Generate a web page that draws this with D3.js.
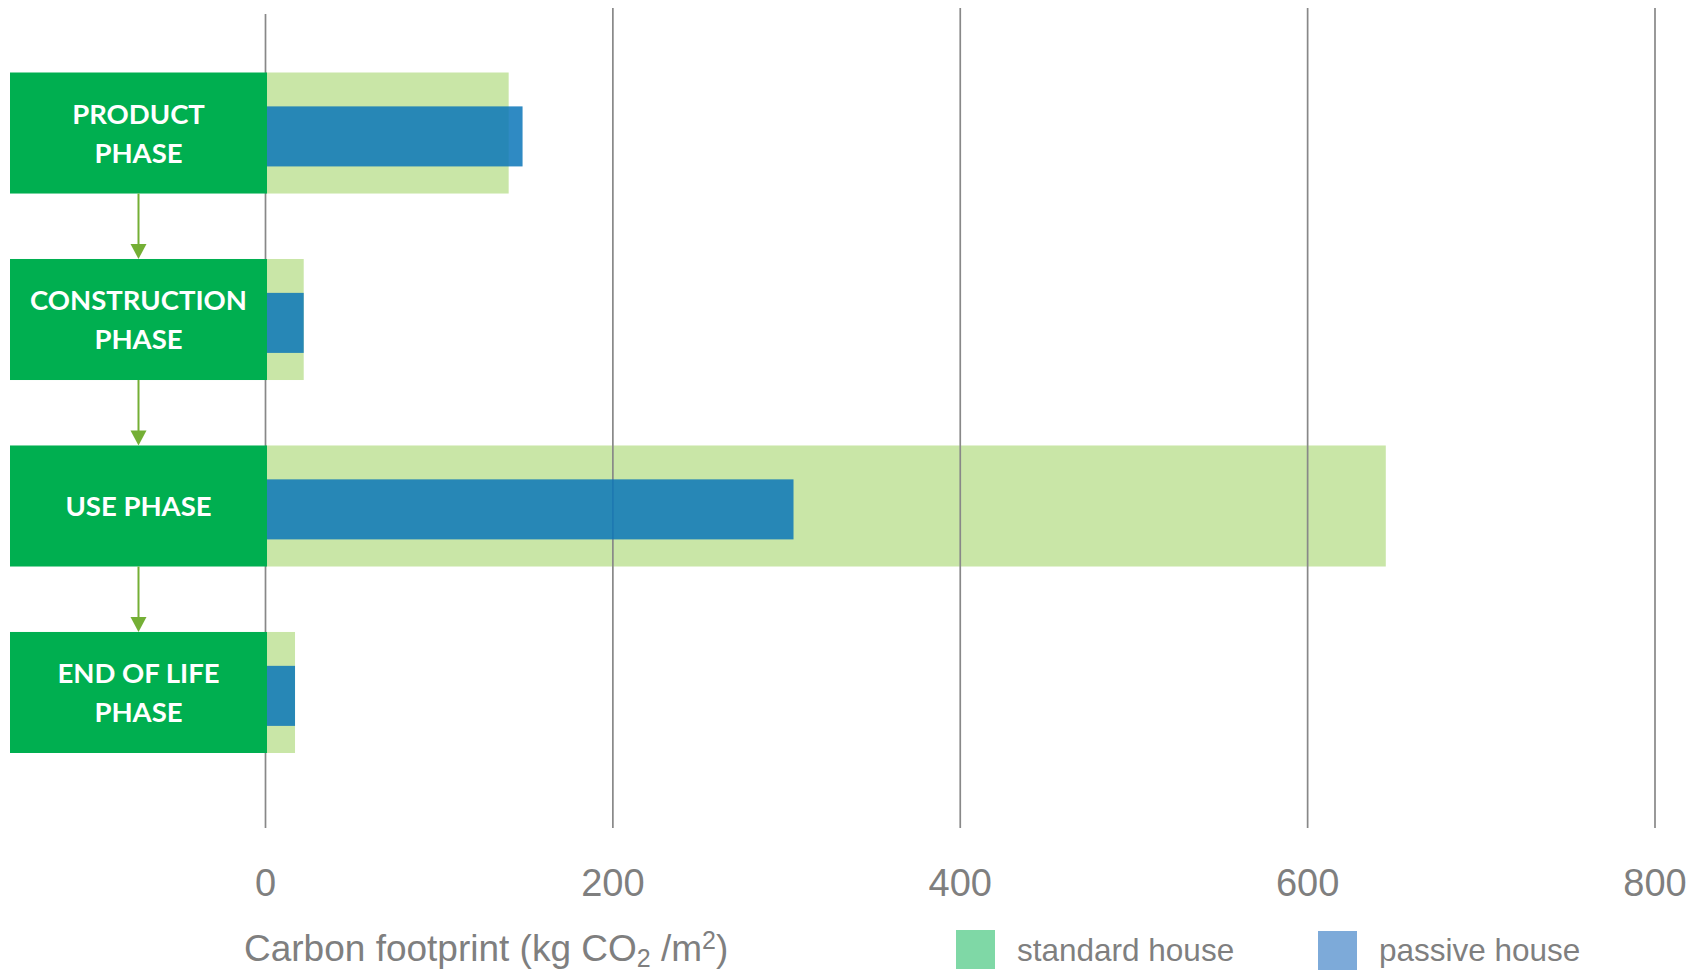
<!DOCTYPE html>
<html>
<head>
<meta charset="utf-8">
<script src="https://cdn.jsdelivr.net/npm/d3@7"></script>
<style>
  body { margin: 0; background: #ffffff; }
  svg { display: block; }
</style>
</head>
<body>
<svg id="chart" width="1699" height="971"></svg>
<script>
// Life-cycle phases (top to bottom) and how their labels break over lines
const categories = ["PRODUCT PHASE", "CONSTRUCTION PHASE", "USE PHASE", "END OF LIFE PHASE"];
const categoryLines = [["PRODUCT", "PHASE"], ["CONSTRUCTION", "PHASE"], ["USE PHASE"], ["END OF LIFE", "PHASE"]];

// Carbon footprint per phase, kg CO2 / m2
const standardHouse = [140, 22, 645, 17];
const passiveHouse = [148, 22, 304, 17];

const seriesNames = ["standard house", "passive house"];
const xTicks = [0, 200, 400, 600, 800];

// ---- layout & style ----
const svg = d3.select("#chart");
const boxLeft = 10;
const gridTop = 8, gridBottom = 828;
const boxGreen = "#00AF50";
const barStandard = "#C9E6A7";
const barPassive = "rgb(10,118,185)";
const arrowGreen = "#74AF35";
const textGray = "#7f7f7f";
const gridGray = "#888888";
const sansFont = "'Liberation Sans', Arial, sans-serif";
const boxFont = "Lato, 'Open Sans', sans-serif";

const x = d3.scaleLinear().domain([0, 800]).range([265.5, 1655]);
const y = d3.scaleBand().domain(categories).range([72.5, 753]).paddingInner(0.351).paddingOuter(0);
const bw = y.bandwidth();

const rows = categories.map((c, i) => ({
  cat: c, lines: categoryLines[i], standard: standardHouse[i], passive: passiveHouse[i]
}));

// standard house bars (full row height)
svg.append("g").selectAll("rect").data(rows).join("rect")
  .attr("x", x(0))
  .attr("y", d => y(d.cat))
  .attr("width", d => x(d.standard) - x(0))
  .attr("height", bw)
  .attr("fill", barStandard);

// vertical gridlines
svg.append("g").selectAll("line").data(xTicks).join("line")
  .attr("x1", d => x(d)).attr("x2", d => x(d))
  .attr("y1", d => d === 0 ? 14 : gridTop)
  .attr("y2", gridBottom)
  .attr("stroke", gridGray)
  .attr("stroke-width", 1.7);

// passive house bars (narrower, translucent, on top)
svg.append("g").selectAll("rect").data(rows).join("rect")
  .attr("x", x(0))
  .attr("y", d => y(d.cat) + bw * 0.28)
  .attr("width", d => x(d.passive) - x(0))
  .attr("height", bw * 0.496)
  .attr("fill", barPassive)
  .attr("fill-opacity", 0.85);

// phase boxes
const boxes = svg.append("g").selectAll("g").data(rows).join("g");
boxes.append("rect")
  .attr("x", boxLeft)
  .attr("y", d => y(d.cat))
  .attr("width", x(0) + 1.5 - boxLeft)
  .attr("height", bw)
  .attr("fill", boxGreen);

const boxMid = (boxLeft + x(0) + 1.5) / 2;
boxes.append("text")
  .attr("x", boxMid)
  .attr("text-anchor", "middle")
  .attr("fill", "#ffffff")
  .attr("font-family", boxFont)
  .attr("font-weight", 700)
  .attr("font-size", 27.5)
  .each(function (d) {
    const cy = y(d.cat) + bw / 2;
    const n = d.lines.length;
    d3.select(this).selectAll("tspan").data(d.lines).join("tspan")
      .attr("x", boxMid)
      .attr("y", (t, j) => cy + 10 + (j - (n - 1) / 2) * 39)
      .text(t => t);
  });

// flow arrows between phases
const arrows = svg.append("g");
for (let i = 0; i < categories.length - 1; i++) {
  const y0 = y(categories[i]) + bw;
  const y1 = y(categories[i + 1]);
  const headH = 15, headW = 16;
  arrows.append("line")
    .attr("x1", boxMid).attr("x2", boxMid)
    .attr("y1", y0).attr("y2", y1 - headH + 1)
    .attr("stroke", arrowGreen).attr("stroke-width", 2);
  arrows.append("path")
    .attr("d", `M${boxMid - headW / 2},${y1 - headH} L${boxMid + headW / 2},${y1 - headH} L${boxMid},${y1} Z`)
    .attr("fill", arrowGreen);
}

// tick labels
svg.append("g").selectAll("text").data(xTicks).join("text")
  .attr("x", d => x(d))
  .attr("y", 896)
  .attr("text-anchor", "middle")
  .attr("fill", textGray)
  .attr("font-family", sansFont)
  .attr("font-size", 38)
  .text(d => d);

// axis title with sub/superscripts
const title = svg.append("text")
  .attr("x", 244)
  .attr("y", 961)
  .attr("fill", textGray)
  .attr("font-family", sansFont)
  .attr("font-size", 37);
title.append("tspan").text("Carbon footprint (kg CO");
title.append("tspan").attr("font-size", 25).attr("dy", 6).text("2");
title.append("tspan").attr("dy", -6).text(" /m");
title.append("tspan").attr("font-size", 25).attr("dy", -12).text("2");
title.append("tspan").attr("dy", 12).text(")");

// legend
const legend = [
  { name: seriesNames[0], color: "#7FD8A6", x: 956, y: 930 },
  { name: seriesNames[1], color: "#7DAAD9", x: 1318, y: 931 }
];
const lg = svg.append("g").selectAll("g").data(legend).join("g");
lg.append("rect")
  .attr("x", d => d.x).attr("y", d => d.y)
  .attr("width", 39).attr("height", 39)
  .attr("fill", d => d.color);
lg.append("text")
  .attr("x", d => d.x + 61)
  .attr("y", 961)
  .attr("fill", textGray)
  .attr("font-family", sansFont)
  .attr("font-size", 31.5)
  .text(d => d.name);
</script>
</body>
</html>
